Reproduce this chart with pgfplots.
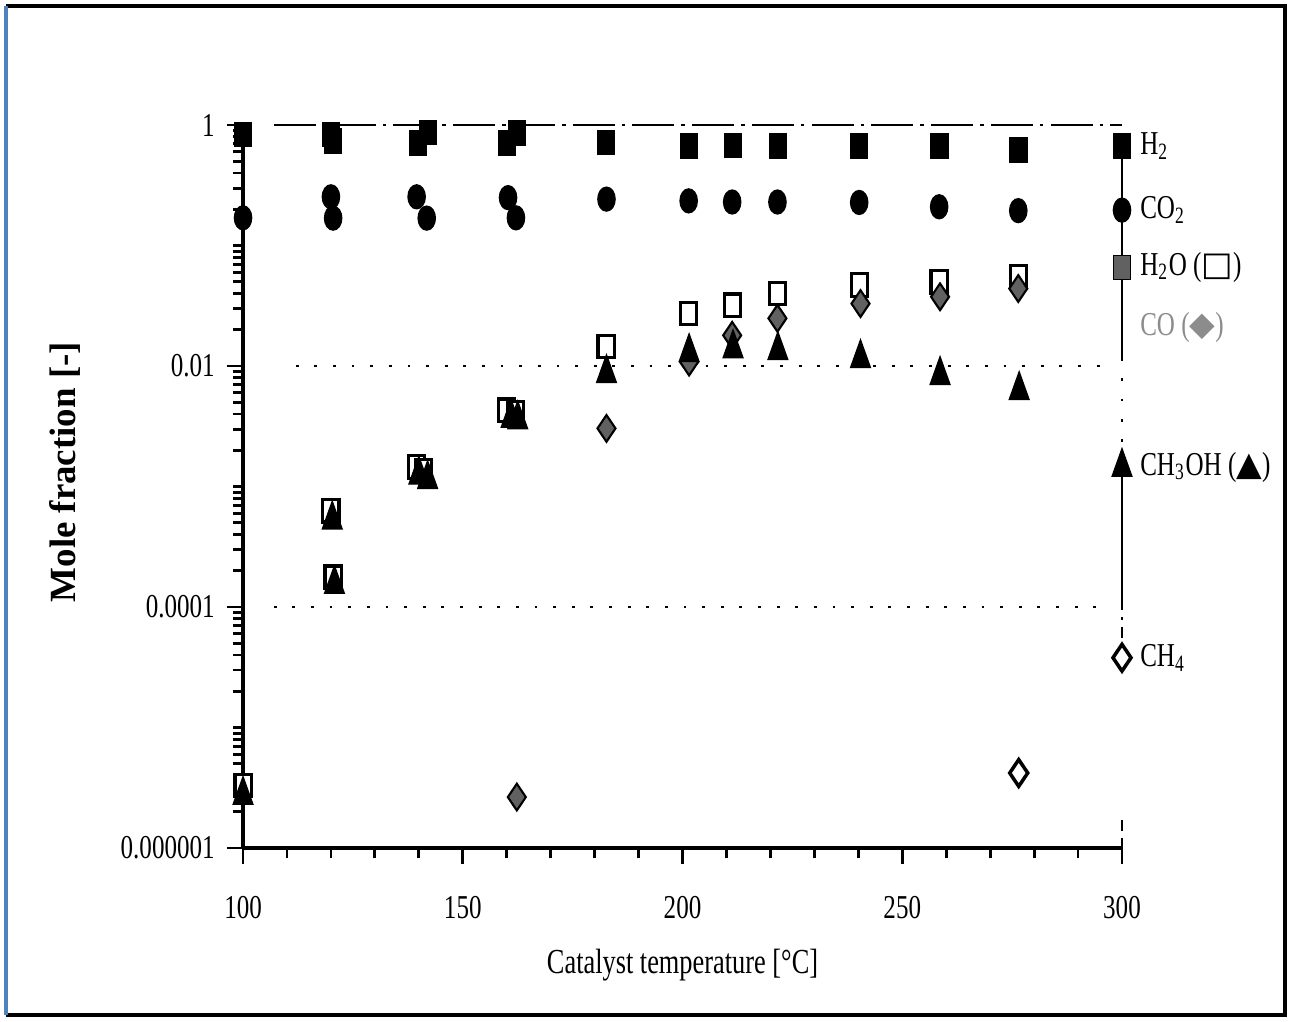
\documentclass[border=0pt]{standalone}
\usepackage{fontspec}
\setmainfont{Liberation Serif}[FakeStretch=0.75]
\newfontfamily\labfont{Liberation Serif}
\newfontfamily\symfont{DejaVu Sans}
\usepackage{pgfplots}
\pgfplotsset{compat=1.18}
\definecolor{frameblue}{HTML}{4F81BD}
\definecolor{hatch}{gray}{0.38}

\begin{document}
\begin{tikzpicture}
\begin{axis}[
  scale only axis,
  width=8.79cm, height=7.23cm,
  xmin=100, xmax=300,
  ymode=log, ymin=1e-6, ymax=1,
  axis x line*=bottom, axis y line*=left,
  axis line style={line width=0.9pt,-},
  xtick={100,150,200,250,300},
  xticklabels={100,150,200,250,300},
  minor x tick num=4,
  ytick={1e-6,1e-4,1e-2,1},
  yticklabels={0.000001,0.0001,0.01,1},
  minor ytick={2e-6,3e-6,4e-6,5e-6,6e-6,7e-6,8e-6,9e-6,
               1e-5,2e-5,3e-5,4e-5,5e-5,6e-5,7e-5,8e-5,9e-5,
               2e-4,3e-4,4e-4,5e-4,6e-4,7e-4,8e-4,9e-4,
               1e-3,2e-3,3e-3,4e-3,5e-3,6e-3,7e-3,8e-3,9e-3,
               2e-2,3e-2,4e-2,5e-2,6e-2,7e-2,8e-2,9e-2,
               1e-1,2e-1,3e-1,4e-1,5e-1,6e-1,7e-1,8e-1,9e-1},
  tick align=outside,
  major tick length=0.16cm, minor tick length=0.1cm,
  tick style={line width=0.8pt,black},
  ticklabel style={font=\fontsize{9.5}{11}\selectfont},
  xticklabel style={yshift=-0.2cm},
  xlabel={Catalyst temperature [°C]},
  ylabel={Mole fraction [-]},
  xlabel style={at={(axis description cs:0.5,-0.162)},anchor=center,font=\fontsize{10}{12}\selectfont},
  ylabel style={at={(axis description cs:-0.2025,0.52)},anchor=center,font=\labfont\bfseries\fontsize{10.5}{12}\selectfont},
  clip=false,
]
% frame round the whole figure
\path (rel axis cs:-0.2765,-0.2393) rectangle (rel axis cs:1.19,1.173);
\draw[line width=1.1pt] (rel axis cs:-0.2696,1.1646) -- (rel axis cs:1.1854,1.1646)
  -- (rel axis cs:1.1854,-0.231) -- (rel axis cs:-0.2696,-0.231);
\draw[frameblue,line width=1pt] (rel axis cs:-0.2696,1.1646) -- (rel axis cs:-0.2696,-0.231);

% reference lines
\draw[line width=0.6pt,dash pattern=on 12pt off 2pt on 1pt off 2pt] (axis cs:107,1) -- (axis cs:300,1);
\draw[line width=0.7pt,dash pattern=on 0.8pt off 4.5pt] (axis cs:112,0.01) -- (axis cs:296,0.01);
\draw[line width=0.7pt,dash pattern=on 0.8pt off 4.5pt] (axis cs:107,1e-4) -- (axis cs:296,1e-4);
\draw[line width=0.5pt] (axis cs:300,0.67) -- (axis cs:300,0.0117);
\draw[line width=0.5pt,dash pattern=on 0.8pt off 5pt] (axis cs:300,0.0117) -- (axis cs:300,0.0016);
\draw[line width=0.5pt] (axis cs:300,0.0014) -- (axis cs:300,1.15e-4);
\draw[line width=0.5pt,dash pattern=on 3pt off 2pt on 0.8pt off 2pt] (axis cs:300,1.15e-4) -- (axis cs:300,4e-5);
\draw[line width=0.5pt,dash pattern=on 3pt off 2pt] (axis cs:300,1.7e-6) -- (axis cs:300,1e-6);

% H2
\addplot[only marks,mark=square*,mark size=3.4pt,mark options={xscale=0.72,fill=black,draw=black}]
  coordinates {(100,0.84) (120,0.84) (120.5,0.74) (139.8,0.71) (142.1,0.87)
    (160.1,0.71) (162.3,0.86) (182.6,0.72) (201.5,0.67) (211.5,0.675)
    (221.7,0.67) (240.2,0.67) (258.5,0.67) (276.5,0.62) (300,0.67)};
% CO2
\addplot[only marks,mark=*,mark size=3.4pt,mark options={xscale=0.72,fill=black,draw=black}]
  coordinates {(100,0.17) (120,0.254) (120.5,0.169) (139.5,0.254) (141.8,0.169)
    (160.3,0.25) (162.1,0.17) (182.7,0.243) (201.4,0.235) (211.3,0.23)
    (221.6,0.23) (240.2,0.228) (258.4,0.21) (276.4,0.195) (300,0.197)};
% H2O (open squares)
\addplot[only marks,mark=square*,mark size=3.2pt,mark options={xscale=0.72,fill=white,draw=black,line width=0.9pt}]
  coordinates {(100,3.3e-6) (120,6.3e-4) (120.5,1.77e-4) (139.5,1.45e-3) (141,1.35e-3)
    (160,4.3e-3) (162,4.1e-3) (182.6,0.0145) (201.4,0.0274) (211.3,0.032)
    (221.6,0.040) (240.2,0.047) (258.4,0.050) (276.4,0.055)};
% H2O legend marker (hatched)
\addplot[only marks,mark=square*,mark size=3.4pt,mark options={xscale=0.72,fill=hatch,draw=black}]
  coordinates {(300,0.066)};
% CO
\addplot[only marks,mark=diamond*,mark size=3.8pt,mark options={xscale=0.9,fill=hatch,draw=black,line width=0.6pt}]
  coordinates {(162.3,2.65e-6) (182.7,3.04e-3) (201.5,0.0108) (211.3,0.018)
    (221.6,0.0249) (240.5,0.033) (258.6,0.0376) (276.4,0.044)};
% CH3OH
\addplot[only marks,mark=triangle*,mark size=5.2pt,mark options={xscale=0.62,fill=black,draw=black}]
  coordinates {(100,2.75e-6) (120.3,5.3e-4) (120.8,1.55e-4) (140,1.25e-3) (142,1.15e-3)
    (161,3.7e-3) (162.5,3.6e-3) (182.7,0.0087) (201.5,0.013) (211.5,0.014)
    (221.7,0.0135) (240.5,0.0116) (258.6,0.0084) (276.6,0.0063) (300,1.45e-3)};
% CH4
\addplot[only marks,mark=diamond*,mark size=3.8pt,mark options={xscale=0.9,fill=white,draw=black,line width=1pt}]
  coordinates {(276.5,4.2e-6) (300,3.8e-5)};

% series names
\begin{scope}[every node/.style={anchor=west,font=\fontsize{9.5}{11}\selectfont,inner sep=0pt}]
\node at (axis cs:304,0.67) {H\textsubscript{2}};
\node at (axis cs:304,0.197) {CO\textsubscript{2}};
\node at (axis cs:304,0.066) {H\textsubscript{2}O ({\symfont □})};
\node[text=black!45] at (axis cs:304,0.021) {CO ({\symfont ◆})};
\node at (axis cs:304,1.45e-3) {CH\textsubscript{3}OH ({\symfont ▲})};
\node at (axis cs:304,3.8e-5) {CH\textsubscript{4}};
\end{scope}
\end{axis}
\end{tikzpicture}
\end{document}
